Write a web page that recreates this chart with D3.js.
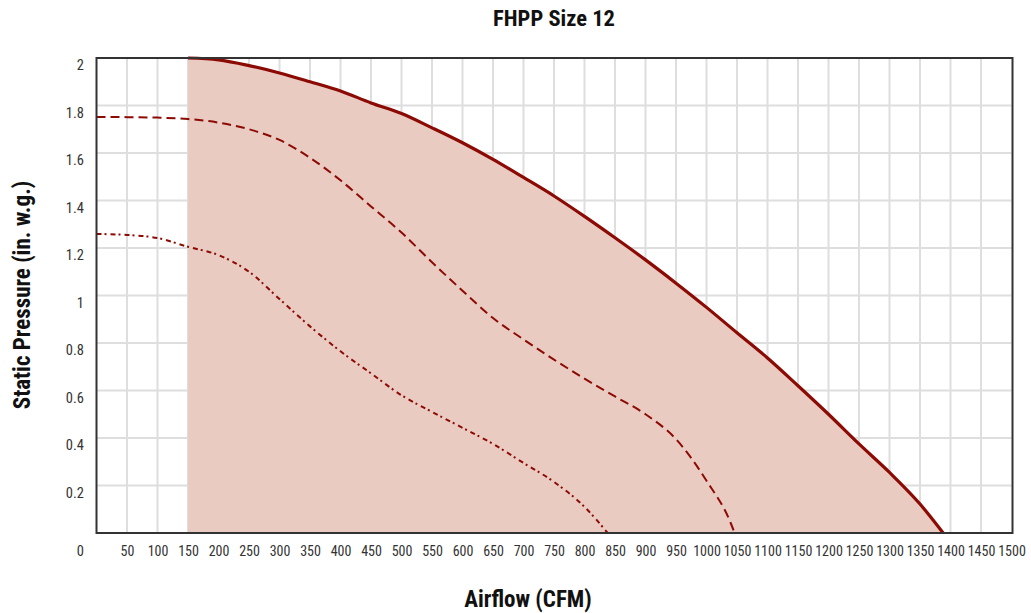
<!DOCTYPE html>
<html>
<head>
<meta charset="utf-8">
<script src="https://cdn.jsdelivr.net/npm/d3@7"></script>
<style>
  body { margin: 0; background: #fff; }
  svg { display: block; }
  text { font-family: "Liberation Sans Narrow", "Arial Narrow", "Roboto Condensed", sans-serif; }
</style>
</head>
<body>
<svg id="chart" width="1031" height="613"></svg>
<script>
// ---- Data ----
const xTicks = [50,100,150,200,250,300,350,400,450,500,550,600,650,700,750,800,850,900,950,1000,1050,1100,1150,1200,1250,1300,1350,1400,1450,1500];
const xTickLabels = ["50","100","150","200","250","300","350","400","450","500","550","600","650","700","750","800","850","900","950","1000","1050","1100","1150","1200","1250","1300","1350","1400","1450","1500"];
const yTicks = [0.2,0.4,0.6,0.8,1,1.2,1.4,1.6,1.8,2];
const yTickLabels = ["0.2","0.4","0.6","0.8","1","1.2","1.4","1.6","1.8","2"];

// Maximum curve (solid, bounds the shaded region)
const maxAirflow  = [150,200,250,300,350,400,450,500,550,600,650,700,750,800,850,900,950,1000,1050,1100,1150,1200,1250,1300,1350,1388];
const maxPressure = [2.0,1.992,1.968,1.937,1.900,1.861,1.811,1.766,1.706,1.643,1.573,1.497,1.419,1.333,1.243,1.150,1.052,0.950,0.843,0.737,0.620,0.500,0.375,0.255,0.122,0.0];

// Middle curve (dashed)
const midAirflow  = [0,50,100,150,200,250,300,350,400,450,500,550,600,650,700,750,800,850,900,950,1000,1040,1046];
const midPressure = [1.752,1.751,1.749,1.743,1.728,1.700,1.655,1.580,1.485,1.375,1.265,1.140,1.020,0.905,0.815,0.730,0.650,0.575,0.500,0.395,0.220,0.040,0.0];

// Low curve (dash-dot)
const lowAirflow  = [0,50,100,150,200,250,300,350,400,450,500,550,600,650,700,750,800,838];
const lowPressure = [1.259,1.255,1.242,1.205,1.170,1.100,0.985,0.870,0.765,0.672,0.580,0.510,0.443,0.375,0.295,0.215,0.110,0.0];

// ---- Layout ----
const svg = d3.select("#chart");
const pL = 96.5, pR = 1011.5, pT = 58, pB = 533;
const x = d3.scaleLinear().domain([0,1500]).range([pL,pR]);
const y = d3.scaleLinear().domain([0,2]).range([pB,pT]);

const red = "#8c0a04";
const fillCol = "#eacbc2";

// grid
const g = svg.append("g");
g.selectAll("line.v").data(xTicks.slice(0,-1)).join("line")
  .attr("x1", d => x(d)).attr("x2", d => x(d))
  .attr("y1", pT).attr("y2", pB)
  .attr("stroke", "#dedede").attr("stroke-width", 2);
g.selectAll("line.h").data(yTicks.slice(0,-1)).join("line")
  .attr("x1", pL).attr("x2", pR)
  .attr("y1", d => y(d)).attr("y2", d => y(d))
  .attr("stroke", "#dedede").attr("stroke-width", 2);

// shaded region
const maxPts = maxAirflow.map((a,i) => [a, maxPressure[i]]);
const area = d3.area().x(d => x(d[0])).y0(y(0)).y1(d => y(d[1])).curve(d3.curveMonotoneX);
svg.append("path").datum(maxPts).attr("d", area).attr("fill", fillCol);

// curves
const line = d3.line().x(d => x(d[0])).y(d => y(d[1])).curve(d3.curveMonotoneX);
svg.append("path").datum(lowAirflow.map((a,i) => [a, lowPressure[i]]))
  .attr("d", line).attr("fill","none").attr("stroke", red).attr("stroke-width", 2)
  .attr("stroke-dasharray", "5,3,2,4");
svg.append("path").datum(midAirflow.map((a,i) => [a, midPressure[i]]))
  .attr("d", line).attr("fill","none").attr("stroke", red).attr("stroke-width", 2)
  .attr("stroke-dasharray", "9,5");
svg.append("path").datum(maxPts)
  .attr("d", line).attr("fill","none").attr("stroke", red).attr("stroke-width", 3.2);

// border
svg.append("rect").attr("x", pL).attr("y", pT).attr("width", pR-pL+1).attr("height", pB-pT)
  .attr("fill","none").attr("stroke","#333").attr("stroke-width", 2);

// axes labels
const xAxis = d3.axisBottom(x).tickValues(xTicks).tickFormat((d,i) => xTickLabels[i]).tickSize(0).tickPadding(0);
const xg = svg.append("g").attr("transform", `translate(0,${pB})`).call(xAxis);
xg.select(".domain").remove();
xg.selectAll("text").attr("y", 23).attr("dy", 0).attr("fill","#333").style("font-size","14px");

const yAxis = d3.axisLeft(y).tickValues(yTicks).tickFormat((d,i) => yTickLabels[i]).tickSize(0).tickPadding(0);
const yg = svg.append("g").attr("transform", `translate(84,0)`).call(yAxis);
yg.select(".domain").remove();
yg.selectAll("text").attr("x", 0).attr("dy", 0).attr("y", 11.5).attr("fill","#333").style("font-size","14.5px");

// origin label
svg.append("text").attr("x", 84).attr("y", 556).attr("text-anchor","end")
  .attr("fill","#333").style("font-size","14.5px").text("0");

// titles
svg.append("text").attr("x", 554).attr("y", 26).attr("text-anchor","middle")
  .style("font-size","22.5px").style("font-weight","bold").attr("fill","#111").text("FHPP Size 12");
svg.append("text").attr("x", 528).attr("y", 607).attr("text-anchor","middle")
  .style("font-size","23px").style("font-weight","bold").attr("fill","#111").text("Airflow (CFM)");
svg.append("text").attr("transform","translate(30,295) rotate(-90)").attr("text-anchor","middle")
  .style("font-size","23px").style("font-weight","bold").attr("fill","#111").text("Static Pressure (in. w.g.)");
</script>
</body>
</html>
